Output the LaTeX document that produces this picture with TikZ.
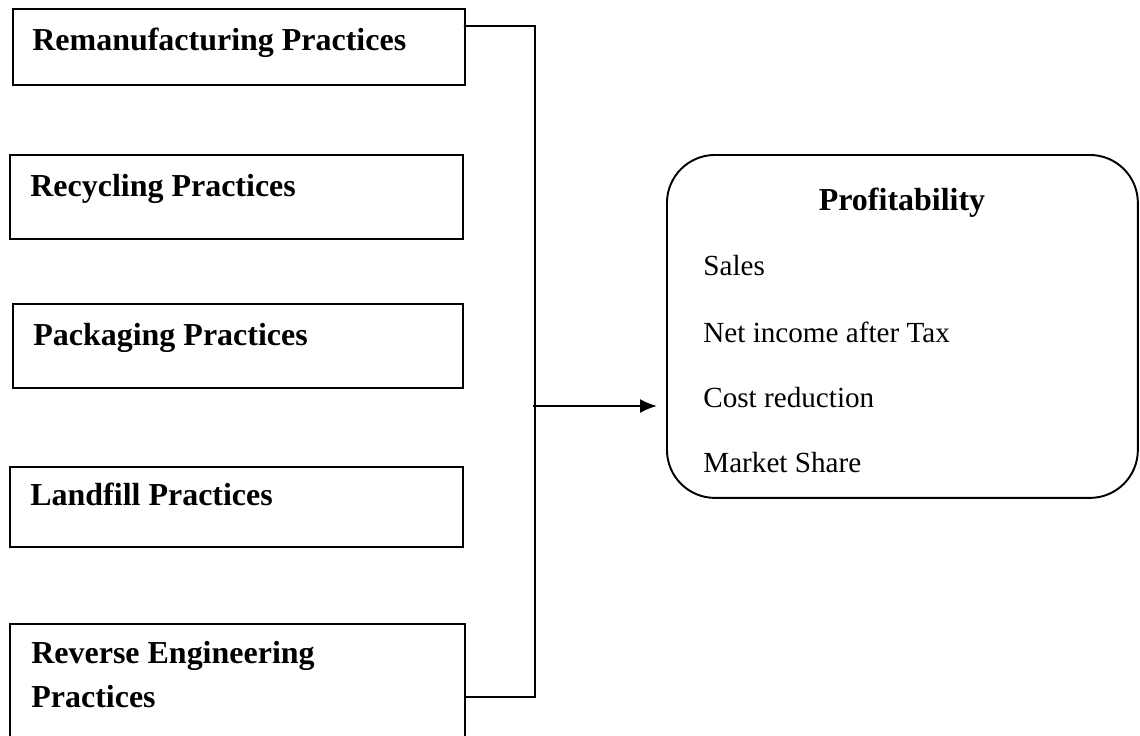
\documentclass[tikz,border=0pt]{standalone}
\usepackage{fontspec}
\setmainfont{Liberation Serif}
\usetikzlibrary{arrows.meta,positioning}

\tikzset{
  practice/.style={draw, line width=1.1pt, anchor=north west, inner sep=0pt},
  heading/.style={anchor=base west, inner sep=0pt, font=\fontsize{18.2}{22}\selectfont\bfseries},
  measure/.style={anchor=base west, inner sep=0pt, font=\fontsize{16.6}{20}\selectfont},
  link/.style={line width=1.1pt},
}

\begin{document}
\begin{tikzpicture}[x=0.02cm, y=-0.02cm]
\useasboundingbox (0,0) rectangle (1140,735);
\clip (0,0) rectangle (1140,735);

% Practice boxes (left column)
\node[practice, minimum width=9.04cm, minimum height=1.52cm] (reman) at (12,8) {};
\node[practice, minimum width=9.06cm, minimum height=1.68cm] (recyc) at (9,154) {};
\node[practice, minimum width=9.00cm, minimum height=1.68cm] (pack) at (12,303) {};
\node[practice, minimum width=9.06cm, minimum height=1.60cm] (land) at (9,466) {};
\node[practice, minimum width=9.10cm, minimum height=2.60cm] (rev) at (9,623) {};

\node[heading] (remant) at (32,50) {Remanufacturing Practices};
\node[heading] (recyct) at (30,196) {Recycling Practices};
\node[heading] (packt) at (33,345) {Packaging Practices};
\node[heading] (landt) at (30,505) {Landfill Practices};
\node[heading] (revt) at (31,663) {Reverse Engineering};
\node[heading] (revt2) at (31,707) {Practices};

% Profitability box
\node[draw, line width=1.1pt, rounded corners=0.96cm, anchor=north west,
      minimum width=9.42cm, minimum height=6.86cm, inner sep=0pt] (profit) at (666,154) {};
\node[heading, anchor=base] (proft) at (902,210) {Profitability};
\node[measure] (sales) at (703,275) {Sales};
\node[measure] (netinc) at (703,342) {Net income after Tax};
\node[measure] (cost) at (703,407) {Cost reduction};
\node[measure] (share) at (703,472) {Market Share};

% Collecting line and arrow
\coordinate (bustop) at (535,26);
\coordinate (busbot) at (535,697);
\coordinate (busmid) at (533,406);
\draw[link] ([xshift=-0.04cm, yshift=-0.36cm]reman.north east) -- (bustop) -- (busbot)
  -- ([yshift=-1.48cm]rev.north east);
\draw[link, -{Latex[length=0.34cm, width=0.28cm]}, shorten >=0.18cm]
  (busmid) -- (busmid -| profit.west);
\end{tikzpicture}
\end{document}
